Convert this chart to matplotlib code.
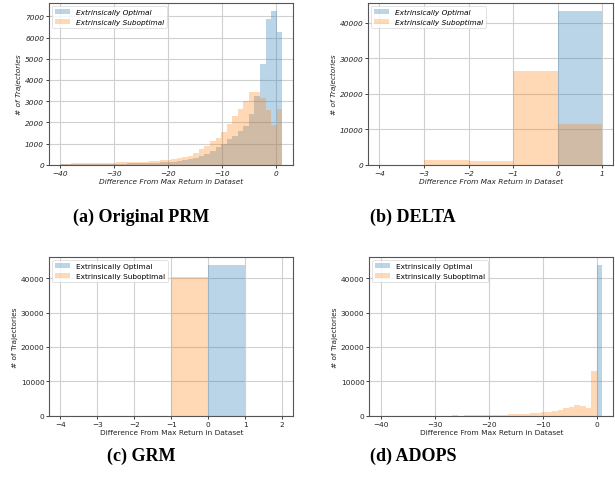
import numpy as np
import matplotlib
matplotlib.use("Agg")
import matplotlib.pyplot as plt

# ---------------- data ----------------
# (a) Original PRM: 40 bins from -40 to 1.2
a_edges_range = (-40.0, 1.2)
a_optimal = [20, 20, 25, 25, 30, 30, 35, 40, 40, 45,
             50, 55, 60, 65, 70, 80, 90, 100, 110, 130,
             150, 180, 210, 250, 310, 390, 500, 660, 820, 1000,
             1200, 1370, 1600, 1840, 2390, 3250, 4750, 6875, 7270, 6245]
a_suboptimal = [50, 55, 60, 65, 70, 75, 80, 85, 95, 100,
                110, 115, 125, 130, 140, 150, 170, 190, 210, 240,
                270, 300, 350, 420, 560, 720, 880, 1100, 1280, 1550,
                1900, 2300, 2650, 3000, 3430, 3430, 3150, 2600, 1870, 2650]

# (b) DELTA: unit bins from -4 to 1
b_edges_range = (-4.0, 1.0)
b_optimal = [0, 0, 0, 0, 43390]
b_suboptimal = [0, 1320, 1035, 26260, 11390]

# (c) GRM: unit bins from -4 to 2
c_edges_range = (-4.0, 2.0)
c_optimal = [0, 0, 0, 0, 43880, 0]
c_suboptimal = [0, 0, 0, 40390, 0, 0]

# (d) ADOPS: 40 bins from -40.1 to 0.92
d_edges_range = (-40.1, 0.92)
d_optimal = [0] * 39 + [43880]
d_suboptimal = [0, 0, 0, 0, 0, 0, 0, 0, 0, 0,
                0, 0, 0, 250, 50, 200, 250, 250, 280, 280,
                300, 300, 320, 400, 450, 500, 600, 700, 850, 1000,
                1200, 1400, 1700, 2200, 2500, 3050, 2800, 2300, 13100, 0]

labels = ["Extrinsically Optimal", "Extrinsically Suboptimal"]
captions = ["(a) Original PRM", "(b) DELTA", "(c) GRM", "(d) ADOPS"]
xlabel = "Difference From Max Return in Dataset"
ylabel = "# of Trajectories"

# ---------------- layout ----------------
W, H = 615, 485
fig = plt.figure(figsize=(W / 100, H / 100), dpi=100)

boxes = [(49, 293.3, 4, 165.7), (368.3, 613.3, 4, 165.7),
         (49.3, 293.3, 258.3, 416.7), (369.3, 613.3, 258.3, 416.7)]
panels = [(a_edges_range, a_optimal, a_suboptimal, True),
          (b_edges_range, b_optimal, b_suboptimal, True),
          (c_edges_range, c_optimal, c_suboptimal, False),
          (d_edges_range, d_optimal, d_suboptimal, False)]
cap_pos = [(141, 217), (413, 217), (141, 456), (413, 456)]

fs = 5.3
for box, (rng, opt, sub, ital), cp, cap in zip(boxes, panels, cap_pos, captions):
    style = "italic" if ital else "normal"
    l, r, t, b = box
    with plt.rc_context({"font.style": style}):
        ax = fig.add_axes([l / W, (H - b) / H, (r - l) / W, (b - t) / H])
        n = len(opt)
        edges = np.linspace(rng[0], rng[1], n + 1)
        centers = 0.5 * (edges[:-1] + edges[1:])
        ax.hist(centers, bins=edges, weights=opt, color="C0", alpha=0.3, label=labels[0])
        ax.hist(centers, bins=edges, weights=sub, color="C1", alpha=0.3, label=labels[1])
        ax.grid(True, color="#d0d0d0", linewidth=0.8)
        ax.set_axisbelow(True)
        ax.set_xlabel(xlabel, fontsize=fs, fontstyle=style, labelpad=1.5, color="#222222")
        ax.set_ylabel(ylabel, fontsize=fs, fontstyle=style, labelpad=2, color="#222222")
        ax.tick_params(labelsize=fs, length=2, width=0.6, pad=1.5, colors="#222222")
        for lbl in ax.get_xticklabels() + ax.get_yticklabels():
            lbl.set_fontstyle(style)
        for sp in ax.spines.values():
            sp.set_color("#555555")
            sp.set_linewidth(0.8)
        leg = ax.legend(loc="upper left", prop={"size": fs, "style": style},
                        framealpha=0.8, borderaxespad=0.4)
        leg.get_frame().set_linewidth(0.5)
    fig.text(cp[0] / W, 1 - cp[1] / H, cap, ha="center", va="center",
             fontsize=13, fontweight="bold", family="Liberation Serif", fontstyle="normal")

fig.savefig("out.png", dpi=100)
